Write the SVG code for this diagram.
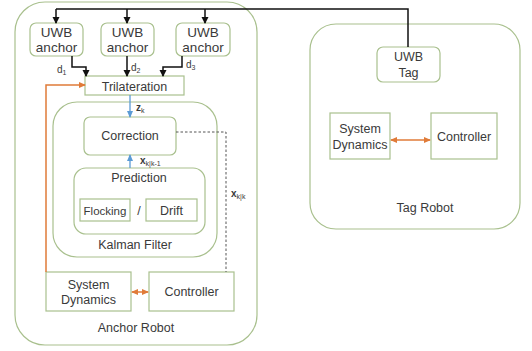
<svg xmlns="http://www.w3.org/2000/svg" width="532" height="351" viewBox="0 0 532 351">
<style>
.box{fill:#fff;stroke:#a9c08e;stroke-width:1.2}
.t{font-family:"Liberation Sans",Arial,sans-serif;font-size:12.5px;fill:#3a3a3a;text-anchor:middle}
.big{font-size:13.5px}
.sm{font-size:11.5px}
.lab{font-family:"Liberation Sans",Arial,sans-serif;font-size:10px;fill:#3a3a3a}
.sub{font-size:7px}
.blk{fill:none;stroke:#111;stroke-width:1.5}
.blu{fill:none;stroke:#5b9bd5;stroke-width:1.3}
.org{fill:none;stroke:#e07b39;stroke-width:1.5}
.dash{fill:none;stroke:#555;stroke-width:1;stroke-dasharray:2.5,2}
</style>
<defs>
<marker id="ab" markerWidth="8" markerHeight="8" refX="6" refY="4" orient="auto" markerUnits="userSpaceOnUse"><path d="M0,0.5 L7,4 L0,7.5 z" fill="#111"/></marker>
<marker id="au" markerWidth="8" markerHeight="8" refX="6" refY="4" orient="auto" markerUnits="userSpaceOnUse"><path d="M0,1 L7,4 L0,7 z" fill="#5b9bd5"/></marker>
<marker id="ao" markerWidth="8" markerHeight="8" refX="6" refY="4" orient="auto-start-reverse" markerUnits="userSpaceOnUse"><path d="M0,1 L7,4 L0,7 z" fill="#e07b39"/></marker>
</defs>
<rect width="532" height="351" fill="#fff"/>

<g id="anchor-robot"><rect class="box" x="15" y="2" width="242" height="343" rx="30"/><text class="t" x="136" y="332">Anchor Robot</text></g>
<g id="tag-robot"><rect class="box" x="310" y="24" width="210" height="205" rx="26"/><text class="t" x="425" y="212">Tag Robot</text></g>

<g id="uwb-anchor-1"><rect class="box" x="30" y="23" width="53" height="33" rx="6"/><text class="t big" x="56.5" y="37">UWB</text><text class="t big" x="56.5" y="52">anchor</text></g>
<g id="uwb-anchor-2"><rect class="box" x="101" y="23" width="53" height="33" rx="6"/><text class="t big" x="127.5" y="37">UWB</text><text class="t big" x="127.5" y="52">anchor</text></g>
<g id="uwb-anchor-3"><rect class="box" x="176" y="23" width="54" height="33" rx="6"/><text class="t big" x="203" y="37">UWB</text><text class="t big" x="203" y="52">anchor</text></g>

<g id="trilateration"><rect class="box" x="85" y="76" width="99" height="19"/><text class="t" x="134.5" y="90.5">Trilateration</text></g>

<g id="kalman-filter"><rect class="box" x="53" y="102" width="164" height="155" rx="24"/><text class="t" x="135" y="249">Kalman Filter</text></g>
<g id="correction"><rect class="box" x="84" y="117" width="92" height="38" rx="6"/><text class="t" x="130" y="140">Correction</text></g>
<g id="prediction"><rect class="box" x="74" y="168" width="131" height="66" rx="12"/><text class="t" x="139" y="182">Prediction</text></g>
<g id="flocking"><rect class="box" x="80" y="199" width="50" height="22"/><text class="t sm" x="105" y="214.5">Flocking</text></g>
<g id="slash"><text class="t" x="139" y="214.5">/</text></g>
<g id="drift"><rect class="box" x="146" y="199" width="51" height="22"/><text class="t" x="171.5" y="214.5">Drift</text></g>

<g id="anchor-system-dynamics"><rect class="box" x="46" y="272" width="85" height="39"/><text class="t" x="88.5" y="289">System</text><text class="t" x="88.5" y="304">Dynamics</text></g>
<g id="anchor-controller"><rect class="box" x="149" y="272" width="85" height="39"/><text class="t" x="191.5" y="296">Controller</text></g>

<g id="uwb-tag"><rect class="box" x="377" y="47" width="63" height="35" rx="6"/><text class="t" x="408.5" y="61">UWB</text><text class="t" x="408.5" y="77">Tag</text></g>
<g id="tag-system-dynamics"><rect class="box" x="330" y="113" width="60" height="46"/><text class="t" x="360" y="133">System</text><text class="t" x="360" y="149">Dynamics</text></g>
<g id="tag-controller"><rect class="box" x="431" y="113" width="66" height="46"/><text class="t" x="464" y="141">Controller</text></g>

<g id="connectors">
<path class="blk" d="M408,47 V9 H56"/>
<path class="blk" d="M56,9 V23" marker-end="url(#ab)"/>
<path class="blk" d="M127,9 V23" marker-end="url(#ab)"/>
<path class="blk" d="M205,9 V23" marker-end="url(#ab)"/>
<path class="blk" d="M72,56 V67 H86 V76" marker-end="url(#ab)"/>
<path class="blk" d="M127,56 V76" marker-end="url(#ab)"/>
<path class="blk" d="M182,56 V67 H163 V76" marker-end="url(#ab)"/>
<path class="blu" d="M130,95 V117" marker-end="url(#au)"/>
<path class="blu" d="M130,168 V155" marker-end="url(#au)"/>
<path class="org" d="M46,272 V85 H85" marker-end="url(#ao)"/>
<path class="org" d="M132,292 H148" marker-start="url(#ao)" marker-end="url(#ao)"/>
<path class="org" d="M391,140 H430" marker-start="url(#ao)" marker-end="url(#ao)"/>
<path class="dash" d="M176,132 H226 V272"/>
<text class="lab" x="57" y="73">d<tspan class="sub" dy="2">1</tspan></text>
<text class="lab" x="131" y="71">d<tspan class="sub" dy="2">2</tspan></text>
<text class="lab" x="186" y="68">d<tspan class="sub" dy="2">3</tspan></text>
<text class="lab" x="136" y="111" font-weight="bold">z<tspan class="sub" dy="2" font-weight="normal">k</tspan></text>
<text class="lab" x="140" y="164" font-weight="bold">x<tspan class="sub" dy="2" font-weight="normal">k|k-1</tspan></text>
<text class="lab" x="231" y="197" font-weight="bold">x<tspan class="sub" dy="2" font-weight="normal">k|k</tspan></text>
</g>
</svg>
